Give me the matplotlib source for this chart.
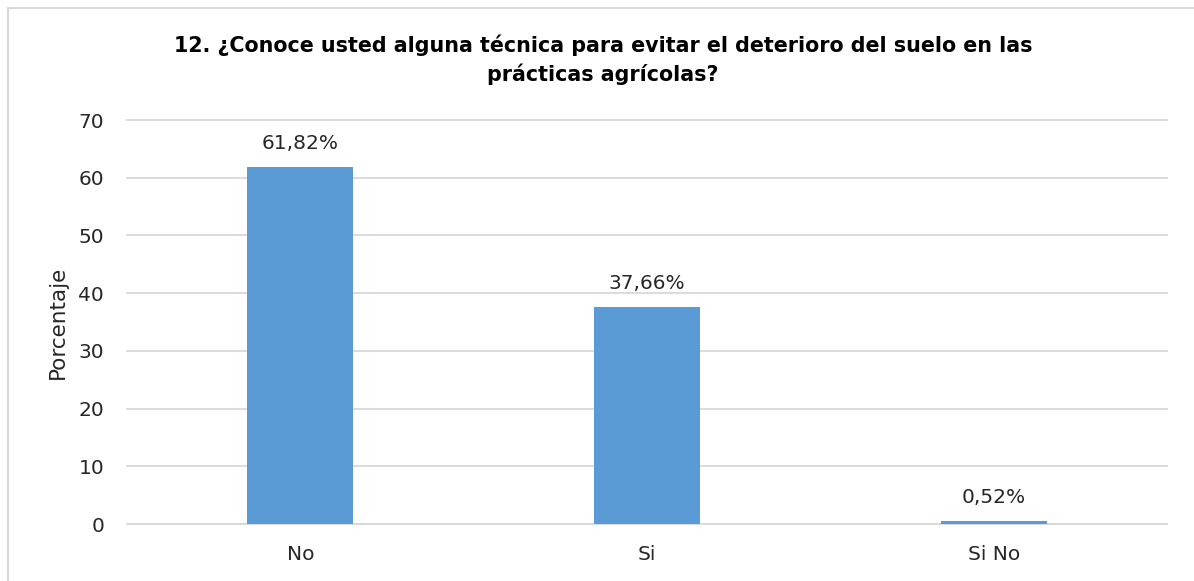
import matplotlib.pyplot as plt
from matplotlib.patches import Rectangle

categories = ['No', 'Si', 'Si No']
values = [61.82, 37.66, 0.52]
labels = ['61,82%', '37,66%', '0,52%']
yticks = [0, 10, 20, 30, 40, 50, 60, 70]

title = ('12. ¿Conoce usted alguna técnica para evitar el deterioro del suelo en las\n'
         'prácticas agrícolas?')

plt.rcParams['font.family'] = ['DejaVu Sans']
text_color = '#262626'

fig = plt.figure(figsize=(11.94, 5.81), dpi=100)
ax = fig.add_axes([127 / 1194, 1 - 524 / 581, (1167 - 127) / 1194, (524 - 120) / 581])

# chart frame (cut off at the right and bottom in the reference)
fig.patches.append(Rectangle((8 / 1194, -0.1), 1.2, 1 - 8 / 581 + 0.1,
                             transform=fig.transFigure, fill=False,
                             edgecolor='#D9D9D9', linewidth=1.5))

x = list(range(len(categories)))
ax.bar(x, values, width=0.306, color='#5B9BD5', zorder=3)
for xi, v, lab in zip(x, values, labels):
    ax.annotate(lab, xy=(xi, v), xytext=(0, 10), textcoords='offset points',
                ha='center', va='bottom', fontsize=14.5, color=text_color)

ax.set_xlim(-0.5, 2.5)
ax.set_ylim(0, 70)
ax.set_yticks(yticks)
ax.set_xticks(x)
ax.set_xticklabels(categories)
ax.yaxis.grid(True, color='#D9D9D9', linewidth=1.3, zorder=0)
for gl in ax.get_ygridlines():
    gl.set_clip_on(False)
ax.tick_params(axis='both', length=0, labelsize=14.5, colors=text_color)
ax.tick_params(axis='y', pad=16.5)
ax.tick_params(axis='x', pad=15)
for s in ['top', 'right', 'left']:
    ax.spines[s].set_visible(False)
ax.spines['bottom'].set_color('#D9D9D9')
ax.spines['bottom'].set_linewidth(1.3)

ax.set_ylabel('Porcentaje', fontsize=15.5, color=text_color)
ax.yaxis.set_label_coords(-0.057, 0.5)

fig.text(603 / 1194, 1 - 60 / 581, title, ha='center', va='center',
         fontsize=14.9, fontweight='bold', color='black', linespacing=1.4)

fig.savefig('out.png', dpi=100)
